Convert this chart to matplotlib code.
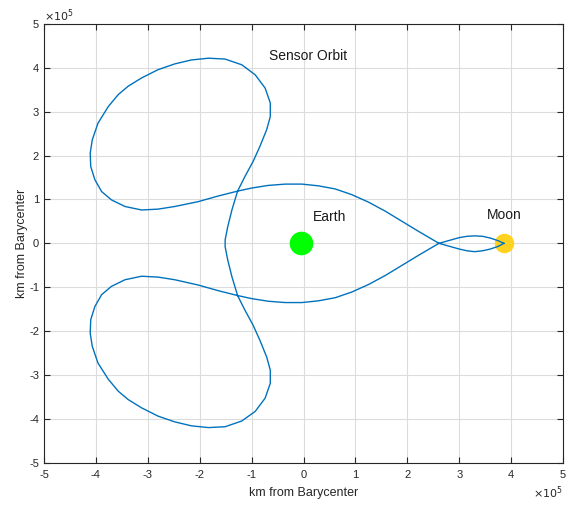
import numpy as np
import matplotlib
matplotlib.use("Agg")
import matplotlib.pyplot as plt
from matplotlib.ticker import FuncFormatter

plt.rcParams['font.family'] = ['Liberation Sans', 'DejaVu Sans']
plt.rcParams['axes.unicode_minus'] = False

# sensor orbit in the barycentric frame (units of 1e5 km), starting at the Moon
orbit_x = [3.86, 3.75, 3.60, 3.45, 3.30, 3.15, 3.00, 2.85, 2.61, 2.22, 1.90, 1.58,
           1.25, 0.93, 0.61, 0.29, -0.03, -0.35, -0.68, -1.00, -1.27, -1.64, -2.03,
           -2.48, -2.80, -3.12, -3.44, -3.70, -3.89, -4.02, -4.10, -4.11, -4.07,
           -3.96, -3.76, -3.57, -3.38, -3.12, -2.80, -2.48, -2.16, -1.83, -1.51,
           -1.19, -0.93, -0.74, -0.64, -0.64, -0.71, -0.84, -0.97, -1.13, -1.27,
           -1.38, -1.46, -1.51,
           -1.51, -1.46, -1.38, -1.27, -1.13, -0.97, -0.84, -0.71, -0.64, -0.64,
           -0.74, -0.93, -1.19, -1.51, -1.83, -2.16, -2.48, -2.80, -3.12, -3.38,
           -3.57, -3.76, -3.96, -4.07, -4.11, -4.10, -4.02, -3.89, -3.70, -3.44,
           -3.12, -2.80, -2.48, -2.03, -1.64, -1.27, -1.00, -0.68, -0.35, -0.03,
           0.29, 0.61, 0.93, 1.25, 1.58, 1.90, 2.22, 2.61, 2.85, 3.00, 3.15, 3.30,
           3.45, 3.60, 3.75, 3.86]
orbit_y = [0.00, -0.07, -0.13, -0.17, -0.19, -0.17, -0.13, -0.08, 0.00, 0.27, 0.50, 0.73,
           0.94, 1.11, 1.24, 1.31, 1.35, 1.35, 1.32, 1.26, 1.19, 1.08, 0.95,
           0.84, 0.78, 0.76, 0.84, 0.99, 1.18, 1.45, 1.75, 2.06, 2.36,
           2.74, 3.12, 3.39, 3.58, 3.77, 3.96, 4.09, 4.18, 4.22, 4.20,
           4.07, 3.84, 3.54, 3.20, 2.89, 2.59, 2.21, 1.87, 1.52, 1.19,
           0.76, 0.38, 0.08,
           -0.08, -0.38, -0.76, -1.19, -1.52, -1.87, -2.21, -2.59, -2.89, -3.19,
           -3.53, -3.83, -4.05, -4.18, -4.20, -4.16, -4.07, -3.94, -3.75, -3.56,
           -3.37, -3.10, -2.73, -2.35, -2.05, -1.74, -1.44, -1.17, -0.98, -0.83,
           -0.75, -0.77, -0.83, -0.95, -1.08, -1.19, -1.26, -1.32, -1.35, -1.35,
           -1.31, -1.24, -1.11, -0.94, -0.73, -0.50, -0.27, 0.00, 0.08, 0.13, 0.16, 0.17,
           0.16, 0.12, 0.06, 0.00]

earth_pos = (-0.05, 0.0)
moon_pos = (3.86, 0.0)
body_labels = ['Earth', 'Moon']
ticks = np.arange(-5, 6)

fig = plt.figure(figsize=(5.68, 5.08), dpi=100)
ax = fig.add_axes([0.0775, 0.0892, 0.9137, 0.8636])

ax.plot(*earth_pos, 'o', color='#00ff00', ms=17, mec='none', zorder=3)
ax.plot(*moon_pos, 'o', color='#ffd21f', ms=14, mec='none', zorder=3)
ax.plot(orbit_x, orbit_y, color='#0072bd', lw=1.0, zorder=4, solid_joinstyle='round')

ax.text(0.19, 0.51, body_labels[0], fontsize=10, color='#1a1a1a')
ax.text(3.53, 0.56, body_labels[1], fontsize=10, color='#1a1a1a')
ax.text(-0.66, 4.28, 'Sensor Orbit', fontsize=10, color='#1a1a1a', va='center')

ax.set_xlim(-5, 5)
ax.set_ylim(-5, 5)
ax.set_xticks(ticks)
ax.set_yticks(ticks)
fmt = FuncFormatter(lambda v, p: f'{v:g}')
ax.xaxis.set_major_formatter(fmt)
ax.yaxis.set_major_formatter(fmt)
ax.grid(True, color='#dcdcdc', lw=0.8)
ax.set_axisbelow(True)
ax.tick_params(direction='in', top=True, right=True, labelsize=8, colors='#262626',
               length=4, width=0.8)
ax.tick_params(axis='x', pad=5)
for s in ax.spines.values():
    s.set_color('#262626')
    s.set_linewidth(0.8)

# exponent labels for both axes
ax.text(0.0, 1.0, r'$\times10^5$', transform=ax.transAxes, fontsize=8,
        color='#262626', ha='left', va='bottom')
ax.text(1.0, -0.05, r'$\times10^5$', transform=ax.transAxes, fontsize=8,
        color='#262626', ha='right', va='top')

ax.set_xlabel('km from Barycenter', fontsize=9, color='#262626', labelpad=5)
ax.set_ylabel('km from Barycenter', fontsize=9, color='#262626', labelpad=1)

fig.savefig('out.png', dpi=100)
